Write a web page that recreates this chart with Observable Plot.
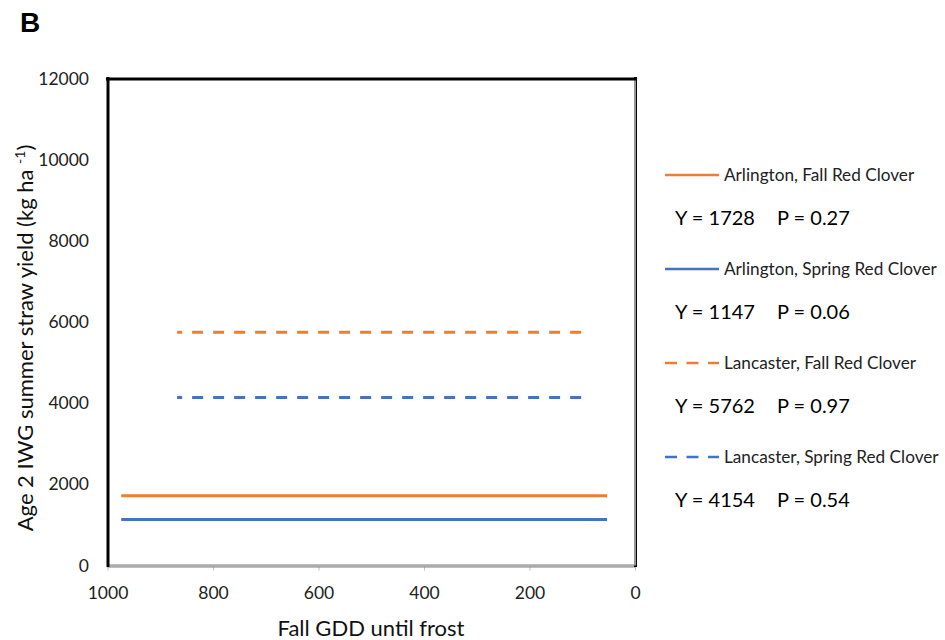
<!DOCTYPE html>
<html>
<head>
<meta charset="utf-8">
<script src="https://cdn.jsdelivr.net/npm/d3@7"></script>
<script src="https://cdn.jsdelivr.net/npm/@observablehq/plot@0.6"></script>
<style>
  html, body { margin: 0; padding: 0; background: #fff; }
  #chart { width: 945px; height: 640px; }
</style>
</head>
<body>
<div id="chart"></div>
<script>
// ---- data ----
const series = ["Arlington, Fall Red Clover", "Arlington, Spring Red Clover", "Lancaster, Fall Red Clover", "Lancaster, Spring Red Clover"];
const yieldValues = [1728, 1147, 5762, 4154];
const pValues = ["0.27", "0.06", "0.97", "0.54"];
const gddStart = [974, 974, 868, 868];
const gddEnd = [53, 53, 99, 99];
const seriesColors = ["#ED7D31", "#4472C4", "#ED7D31", "#4472C4"];
const seriesDashed = [false, false, true, true];
const xTicks = [1000, 800, 600, 400, 200, 0];
const yTicks = [0, 2000, 4000, 6000, 8000, 10000, 12000];

const rows = series.map((s, i) => ({
  series: s, y: yieldValues[i], x1: gddStart[i], x2: gddEnd[i],
  color: seriesColors[i], dashed: seriesDashed[i], p: pValues[i]
}));

const FONT = "Lato, 'Open Sans', sans-serif";

const plot = Plot.plot({
  width: 945,
  height: 640,
  marginLeft: 107.5,
  marginRight: 310,
  marginTop: 78.5,
  marginBottom: 74.5,
  style: { fontFamily: FONT, fontSize: "17px", color: "#000", background: "#fff", overflow: "visible" },
  x: { domain: [0, 1000], reverse: true },
  y: { domain: [0, 12000] },
  color: { type: "identity" },
  marks: [
    Plot.axisY(yTicks, { tickSize: 0, tickPadding: 19, tickFormat: d => String(d), label: null, fontSize: 17.5, fill: "#222" }),
    Plot.axisX(xTicks, { tickSize: 5, tickPadding: 16, tickFormat: d => String(d), label: null, fontSize: 17.5, stroke: "#bfbfbf", fill: "#222" }),
    // frame
    Plot.ruleY([0], { stroke: "#7f7f7f", strokeWidth: 3 }),
    Plot.ruleY([0], { stroke: "#d9d9d9", strokeWidth: 1 }),
    Plot.ruleX([0], { stroke: "#000", strokeWidth: 3, strokeLinecap: "square" }),
    Plot.ruleX([0], { stroke: "#c8c8c8", strokeWidth: 1.5, dx: -0.5 }),
    Plot.ruleX([1000], { stroke: "#000", strokeWidth: 3, strokeLinecap: "square" }),
    Plot.ruleY([12000], { stroke: "#000", strokeWidth: 3, strokeLinecap: "square" }),
    // series
    Plot.ruleY(rows.filter(d => !d.dashed), { y: "y", x1: "x1", x2: "x2", stroke: "color", strokeWidth: 3 }),
    Plot.ruleY(rows.filter(d => d.dashed), { y: "y", x1: "x1", x2: "x2", stroke: "color", strokeWidth: 3, strokeDasharray: "11,10", strokeDashoffset: 6 })
  ]
});

const svg = d3.select(plot);

// panel letter
svg.append("text").attr("x", 20).attr("y", 32).attr("text-anchor", "start")
  .attr("font-family", "'Liberation Sans', Arial, sans-serif").attr("font-weight", "bold")
  .attr("font-size", 28).attr("fill", "#000").text("B");

// x axis title
svg.append("text").attr("x", 371).attr("y", 636).attr("text-anchor", "middle")
  .attr("font-family", FONT).attr("font-size", 22).attr("fill", "#111").text("Fall GDD until frost");

// y axis title
const yt = svg.append("text").attr("transform", "translate(33,338) rotate(-90)")
  .attr("text-anchor", "middle").attr("font-family", FONT).attr("font-size", 22).attr("fill", "#111");
yt.append("tspan").text("Age 2 IWG summer straw yield (kg ha ");
yt.append("tspan").attr("font-size", 14).attr("dy", -8).text("-1");
yt.append("tspan").attr("dy", 8).text(")");

// legend
const legendTop = 175, legendStep = 94;
rows.forEach((d, i) => {
  const ly = legendTop + i * legendStep;
  svg.append("line").attr("x1", 665).attr("x2", 719).attr("y1", ly).attr("y2", ly)
    .attr("stroke", d.color).attr("stroke-width", 2.5)
    .attr("stroke-dasharray", d.dashed ? "12,9.5" : null);
  svg.append("text").attr("x", 724).attr("y", ly).attr("dy", "0.35em").attr("text-anchor", "start")
    .attr("font-family", FONT).attr("font-size", 17.2).attr("fill", "#222").text(d.series);
  svg.append("text").attr("x", 675).attr("y", ly + 43).attr("dy", "0.35em").attr("text-anchor", "start")
    .attr("font-family", FONT).attr("font-size", 20).attr("fill", "#000").text("Y = " + d.y);
  svg.append("text").attr("x", 777).attr("y", ly + 43).attr("dy", "0.35em").attr("text-anchor", "start")
    .attr("font-family", FONT).attr("font-size", 20).attr("fill", "#000").text("P = " + d.p);
});

document.getElementById("chart").appendChild(plot);
</script>
</body>
</html>
